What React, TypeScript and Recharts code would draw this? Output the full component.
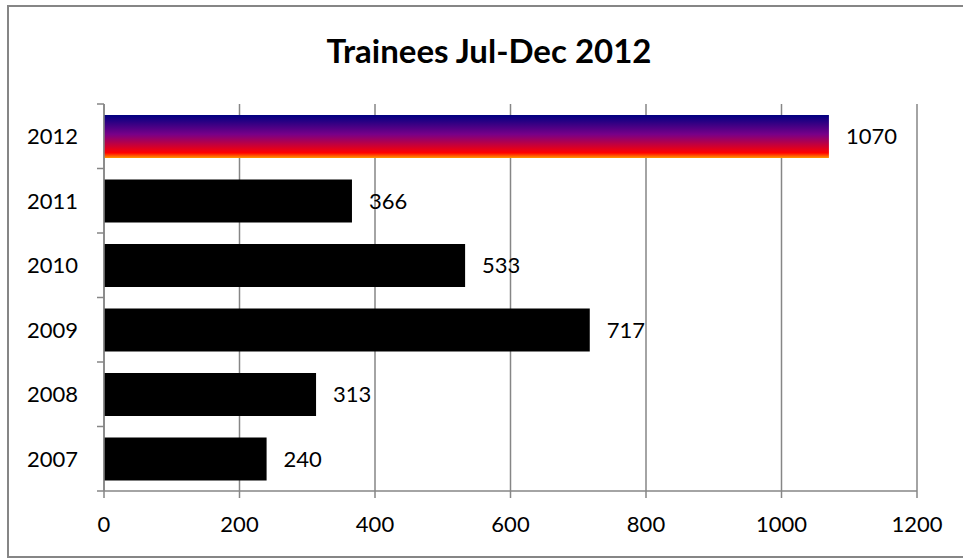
import { BarChart, Bar, XAxis, YAxis, CartesianGrid, Cell, LabelList } from 'recharts';

const years = ['2012', '2011', '2010', '2009', '2008', '2007'];
const trainees = [1070, 366, 533, 717, 313, 240];
const xTicks = [0, 200, 400, 600, 800, 1000, 1200];

const data = years.map((year, i) => ({ year, trainees: trainees[i] }));

const FONT = 'Lato, "Open Sans", sans-serif';
const GRID = '#868686';
const LABEL_GAP = 26;
const TICK_LEN = 7;

// category label plus Excel-style tick marks on the band edges
const YearTick = (props: any) => {
  const { x, y, payload, index, visibleTicksCount } = props;
  const half = payload?.offset ?? 0;
  const axisX = x + LABEL_GAP;
  const last = index === (visibleTicksCount ?? years.length) - 1;
  return (
    <g>
      <text x={x} y={y} dy="0.355em" textAnchor="end" fill="#000" fontSize={22} fontFamily={FONT}>
        {payload.value}
      </text>
      {half > 0 && (
        <line x1={axisX - TICK_LEN} x2={axisX} y1={y - half} y2={y - half} stroke={GRID} strokeWidth={1.5} />
      )}
      {half > 0 && last && (
        <line x1={axisX - TICK_LEN} x2={axisX} y1={y + half} y2={y + half} stroke={GRID} strokeWidth={1.5} />
      )}
    </g>
  );
};

export default function App() {
  return (
    <div
      style={{
        position: 'absolute',
        left: 7,
        top: 5,
        width: 956,
        height: 549,
        border: `2px solid ${GRID}`,
        borderRight: 'none',
        background: '#fff',
        fontFamily: FONT,
      }}
    >
      <svg width={0} height={0} style={{ position: 'absolute' }}>
        <defs>
          <linearGradient id="bar2012" x1="0" y1="0" x2="0" y2="1">
            <stop offset="0%" stopColor="#000080" />
            <stop offset="45%" stopColor="#780088" />
            <stop offset="88%" stopColor="#ff0000" />
            <stop offset="100%" stopColor="#ff9900" />
          </linearGradient>
        </defs>
      </svg>
      <div
        style={{
          position: 'absolute',
          left: 0,
          width: 960,
          top: 23,
          textAlign: 'center',
          fontSize: 33,
          fontWeight: 700,
          color: '#000',
        }}
      >
        Trainees Jul-Dec 2012
      </div>
      <BarChart
        width={953}
        height={549}
        data={data}
        layout="vertical"
        margin={{ top: 97, right: 45, bottom: 0, left: 0 }}
        style={{ fontFamily: FONT }}
      >
        <CartesianGrid horizontal={false} stroke={GRID} strokeWidth={1.5} />
        <XAxis
          type="number"
          domain={[0, 1200]}
          ticks={xTicks}
          interval={0}
          height={65}
          tickSize={7}
          tickMargin={18}
          stroke={GRID}
          strokeWidth={1.5}
          tick={{ fill: '#000', fontSize: 22 }}
        />
        <YAxis
          type="category"
          dataKey="year"
          width={95}
          stroke={GRID}
          strokeWidth={1.5}
          tickLine={false}
          tickSize={0}
          tickMargin={LABEL_GAP}
          interval={0}
          tick={<YearTick />}
        />
        <Bar dataKey="trainees" barSize={43} isAnimationActive={false}>
          {data.map((d, i) => (
            <Cell key={d.year} fill={i === 0 ? 'url(#bar2012)' : '#000'} />
          ))}
          <LabelList dataKey="trainees" position="right" offset={17} fill="#000" fontSize={22} />
        </Bar>
      </BarChart>
    </div>
  );
}
